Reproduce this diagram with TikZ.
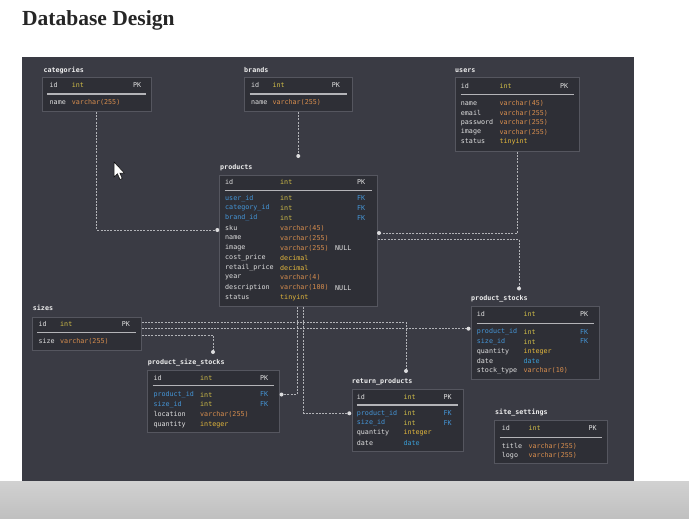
\documentclass[tikz,border=0pt]{standalone}
\usepackage{fontspec}
\setmainfont{Liberation Serif}
\setmonofont{DejaVu Sans Mono}
\definecolor{panel}{HTML}{3A3B44}
\definecolor{tfill}{HTML}{2E2F36}
\definecolor{tborder}{HTML}{55565F}
\definecolor{fname}{HTML}{E0E0E0}
\definecolor{ttlc}{HTML}{EEEEEE}
\definecolor{cint}{HTML}{D2BE48}
\definecolor{cvar}{HTML}{D88E4E}
\definecolor{cdec}{HTML}{E4B83C}
\definecolor{cdate}{HTML}{3A9ED6}
\definecolor{cfk}{HTML}{4596D8}
\definecolor{sepc}{HTML}{B4B4B8}
\definecolor{connc}{HTML}{B2B3B8}
\definecolor{dotc}{HTML}{DCDCDE}
\definecolor{titlec}{HTML}{262626}
\newcommand\tf[5]{\node[txt,text=#4] (#1) at (#2,#3) {#5};}
\begin{document}
\begin{tikzpicture}[x=1pt,y=-1pt,
  txt/.style={font=\ttfamily\fontsize{6.7}{7}\selectfont, anchor=west, inner sep=0pt},
  ttlst/.style={font=\ttfamily\bfseries\fontsize{6.7}{7}\selectfont, anchor=west, inner sep=0pt, text=ttlc},
  tbl/.style={draw=tborder, fill=tfill, line width=0.8pt, anchor=north west, inner sep=0pt, rectangle},
  sep/.style={draw=sepc, line width=1.1pt},
  conn/.style={draw=connc, line width=0.7pt, dash pattern=on 2pt off 1.3pt},
  dot/.style={circle, fill=dotc, inner sep=0pt, minimum size=4pt}]
\useasboundingbox (0,0) rectangle (689,519);
\fill[white] (0,0) rectangle (689,519);
\fill[panel] (22,57) rectangle (634,481);
\shade[top color=gray!36, bottom color=gray!50] (0,481) rectangle (689,519);
\node[font=\bfseries\fontsize{21.5}{24}\selectfont, text=titlec, anchor=base west, inner sep=0pt] (title) at (22,25.5) {Database Design};

% ---------- categories
\node[ttlst] (catT) at (43.3,70) {categories};
\node[tbl,minimum width=109pt,minimum height=34.3pt] (cat) at (41.7,76.7) {};
\tf{cat1}{49.5}{85}{fname}{id}
\tf{cat1t}{71.7}{85}{cint}{int}
\tf{cat1p}{133}{85}{fname}{PK}
\draw[sep] (47,94) -- (145.5,94);
\tf{cat2}{49.5}{102.3}{fname}{name}
\tf{cat2t}{71.7}{102.3}{cvar}{varchar(255)}

% ---------- brands
\node[ttlst] (brT) at (244,70) {brands};
\node[tbl,minimum width=107.7pt,minimum height=34.3pt] (brand) at (244,76.7) {};
\tf{br1}{251}{85}{fname}{id}
\tf{br1t}{272.3}{85}{cint}{int}
\tf{br1p}{331.7}{85}{fname}{PK}
\draw[sep] (249.5,94) -- (346.5,94);
\tf{br2}{251}{102.3}{fname}{name}
\tf{br2t}{272.3}{102.3}{cvar}{varchar(255)}

% ---------- users
\node[ttlst] (usT) at (455,71) {users};
\node[tbl,minimum width=124.3pt,minimum height=73.4pt] (users) at (455,77.3) {};
\tf{us1}{460.7}{86}{fname}{id}
\tf{us1t}{499.3}{86}{cint}{int}
\tf{us1p}{560}{86}{fname}{PK}
\draw[sep] (460.5,94.7) -- (574,94.7);
\tf{us2}{460.7}{103.6}{fname}{name}
\tf{us2t}{499.3}{103.6}{cvar}{varchar(45)}
\tf{us3}{460.7}{113.1}{fname}{email}
\tf{us3t}{499.3}{113.1}{cvar}{varchar(255)}
\tf{us4}{460.7}{122.6}{fname}{password}
\tf{us4t}{499.3}{122.6}{cvar}{varchar(255)}
\tf{us5}{460.7}{132.1}{fname}{image}
\tf{us5t}{499.3}{132.1}{cvar}{varchar(255)}
\tf{us6}{460.7}{141.6}{fname}{status}
\tf{us6t}{499.3}{141.6}{cdec}{tinyint}

% ---------- products
\node[ttlst] (prT) at (220,168) {products};
\node[tbl,minimum width=158pt,minimum height=130.7pt] (prod) at (219,175) {};
\tf{pr1}{225}{182.3}{fname}{id}
\tf{pr1t}{280}{182.3}{cint}{int}
\tf{pr1p}{357}{182.3}{fname}{PK}
\draw[sep] (224.5,190.7) -- (371.5,190.7);
\tf{pr2}{225}{198.3}{cfk}{user\_id}
\tf{pr2t}{280}{198.3}{cint}{int}
\tf{pr2p}{357}{198.3}{cfk}{FK}
\tf{pr3}{225}{208.2}{cfk}{category\_id}
\tf{pr3t}{280}{208.2}{cint}{int}
\tf{pr3p}{357}{208.2}{cfk}{FK}
\tf{pr4}{225}{218.2}{cfk}{brand\_id}
\tf{pr4t}{280}{218.2}{cint}{int}
\tf{pr4p}{357}{218.2}{cfk}{FK}
\tf{pr5}{225}{228.1}{fname}{sku}
\tf{pr5t}{280}{228.1}{cvar}{varchar(45)}
\tf{pr6}{225}{238.0}{fname}{name}
\tf{pr6t}{280}{238.0}{cvar}{varchar(255)}
\tf{pr7}{225}{248.0}{fname}{image}
\tf{pr7t}{280}{248.0}{cvar}{varchar(255)}
\tf{pr7n}{335}{248.0}{fname}{NULL}
\tf{pr8}{225}{257.9}{fname}{cost\_price}
\tf{pr8t}{280}{257.9}{cdec}{decimal}
\tf{pr9}{225}{267.8}{fname}{retail\_price}
\tf{pr9t}{280}{267.8}{cdec}{decimal}
\tf{pr10}{225}{277.7}{fname}{year}
\tf{pr10t}{280}{277.7}{cvar}{varchar(4)}
\tf{pr11}{225}{287.7}{fname}{description}
\tf{pr11t}{280}{287.7}{cvar}{varchar(100)}
\tf{pr11n}{335}{287.7}{fname}{NULL}
\tf{pr12}{225}{297.6}{fname}{status}
\tf{pr12t}{280}{297.6}{cdec}{tinyint}

% ---------- sizes
\node[ttlst] (szT) at (32.7,308.3) {sizes};
\node[tbl,minimum width=109pt,minimum height=33.3pt] (sizes) at (31.7,316.7) {};
\tf{sz1}{38.3}{324}{fname}{id}
\tf{sz1t}{60}{324}{cint}{int}
\tf{sz1p}{121.7}{324}{fname}{PK}
\draw[sep] (37,332.7) -- (135.5,332.7);
\tf{sz2}{38.3}{341}{fname}{size}
\tf{sz2t}{60}{341}{cvar}{varchar(255)}

% ---------- product_size_stocks
\node[ttlst] (pssT) at (147.7,362.3) {product\_size\_stocks};
\node[tbl,minimum width=132.6pt,minimum height=62.3pt] (pss) at (146.7,370) {};
\tf{pss1}{153.3}{377.7}{fname}{id}
\tf{pss1t}{200}{377.7}{cint}{int}
\tf{pss1p}{260}{377.7}{fname}{PK}
\draw[sep] (152.5,385.7) -- (273.5,385.7);
\tf{pss2}{153.3}{394.5}{cfk}{product\_id}
\tf{pss2t}{200}{394.5}{cint}{int}
\tf{pss2p}{260}{394.5}{cfk}{FK}
\tf{pss3}{153.3}{404.3}{cfk}{size\_id}
\tf{pss3t}{200}{404.3}{cint}{int}
\tf{pss3p}{260}{404.3}{cfk}{FK}
\tf{pss4}{153.3}{414.3}{fname}{location}
\tf{pss4t}{200}{414.3}{cvar}{varchar(255)}
\tf{pss5}{153.3}{424.3}{fname}{quantity}
\tf{pss5t}{200}{424.3}{cdec}{integer}

% ---------- product_stocks
\node[ttlst] (psT) at (471,299) {product\_stocks};
\node[tbl,minimum width=128.3pt,minimum height=73.3pt] (ps) at (471,305.7) {};
\tf{ps1}{476.7}{314.3}{fname}{id}
\tf{ps1t}{523.3}{314.3}{cint}{int}
\tf{ps1p}{580}{314.3}{fname}{PK}
\draw[sep] (476.5,323.3) -- (594,323.3);
\tf{ps2}{476.7}{332}{cfk}{product\_id}
\tf{ps2t}{523.3}{332}{cint}{int}
\tf{ps2p}{580}{332}{cfk}{FK}
\tf{ps3}{476.7}{341.5}{cfk}{size\_id}
\tf{ps3t}{523.3}{341.5}{cint}{int}
\tf{ps3p}{580}{341.5}{cfk}{FK}
\tf{ps4}{476.7}{351.2}{fname}{quantity}
\tf{ps4t}{523.3}{351.2}{cdec}{integer}
\tf{ps5}{476.7}{360.9}{fname}{date}
\tf{ps5t}{523.3}{360.9}{cdate}{date}
\tf{ps6}{476.7}{370.6}{fname}{stock\_type}
\tf{ps6t}{523.3}{370.6}{cvar}{varchar(10)}

% ---------- return_products
\node[ttlst] (rpT) at (351.7,381.7) {return\_products};
\node[tbl,minimum width=111.6pt,minimum height=61.7pt] (rp) at (351.7,389.3) {};
\tf{rp1}{356.7}{396.7}{fname}{id}
\tf{rp1t}{403.3}{396.7}{cint}{int}
\tf{rp1p}{443.3}{396.7}{fname}{PK}
\draw[sep] (356.5,405) -- (458,405);
\tf{rp2}{356.7}{413.3}{cfk}{product\_id}
\tf{rp2t}{403.3}{413.3}{cint}{int}
\tf{rp2p}{443.3}{413.3}{cfk}{FK}
\tf{rp3}{356.7}{423.1}{cfk}{size\_id}
\tf{rp3t}{403.3}{423.1}{cint}{int}
\tf{rp3p}{443.3}{423.1}{cfk}{FK}
\tf{rp4}{356.7}{432.9}{fname}{quantity}
\tf{rp4t}{403.3}{432.9}{cdec}{integer}
\tf{rp5}{356.7}{442.7}{fname}{date}
\tf{rp5t}{403.3}{442.7}{cdate}{date}

% ---------- site_settings
\node[ttlst] (ssT) at (495,412.7) {site\_settings};
\node[tbl,minimum width=113.3pt,minimum height=43.3pt] (site) at (494,420) {};
\tf{ss1}{501.7}{428.3}{fname}{id}
\tf{ss1t}{528.3}{428.3}{cint}{int}
\tf{ss1p}{588.3}{428.3}{fname}{PK}
\draw[sep] (499.5,437.3) -- (602,437.3);
\tf{ss2}{501.7}{446}{fname}{title}
\tf{ss2t}{528.3}{446}{cvar}{varchar(255)}
\tf{ss3}{501.7}{455.3}{fname}{logo}
\tf{ss3t}{528.3}{455.3}{cvar}{varchar(255)}

% ---------- connectors
\coordinate (pL) at (217.3,230);
\coordinate (bD) at (brand.south |- 0,156);
\coordinate (uD) at (379,233);
\coordinate (pR2) at (prod.east |- 0,239);
\coordinate (psD) at (519,288.5);
\coordinate (sR1) at (sizes.east |- 0,335);
\coordinate (pssD) at (213,352);
\coordinate (sR2) at (sizes.east |- 0,322.5);
\coordinate (rpD) at (406,371);
\coordinate (sR3) at (sizes.east |- 0,328.7);
\coordinate (psL) at (468.5,328.7);
\coordinate (pB1) at (prod.south -| 297,0);
\coordinate (pssR) at (281.5,394.5);
\coordinate (pB2) at (prod.south -| 303.5,0);
\coordinate (rpL) at (349.3,413.3);

\draw[conn] (cat.south) |- (pL);
\draw[conn] (brand.south) -- (bD);
\draw[conn] (users.south) |- (uD);
\draw[conn] (pR2) -| (psD);
\draw[conn] (sR1) -| (pssD);
\draw[conn] (sR2) -| (rpD);
\draw[conn] (sR3) -- (psL);
\draw[conn] (pB1) |- (pssR);
\draw[conn] (pB2) |- (rpL);

\foreach \c in {pL,bD,uD,psD,pssD,rpD,psL,pssR,rpL}
  \node[dot] (dot-\c) at (\c) {};

% ---------- mouse cursor
\filldraw[fill=white, draw=black, line width=0.5pt]
  (114,162) -- (114,177) -- (117.5,173.8) -- (120,179.5) -- (122.2,178.5)
  -- (119.8,173) -- (124.3,173) -- cycle;
\end{tikzpicture}
\end{document}
